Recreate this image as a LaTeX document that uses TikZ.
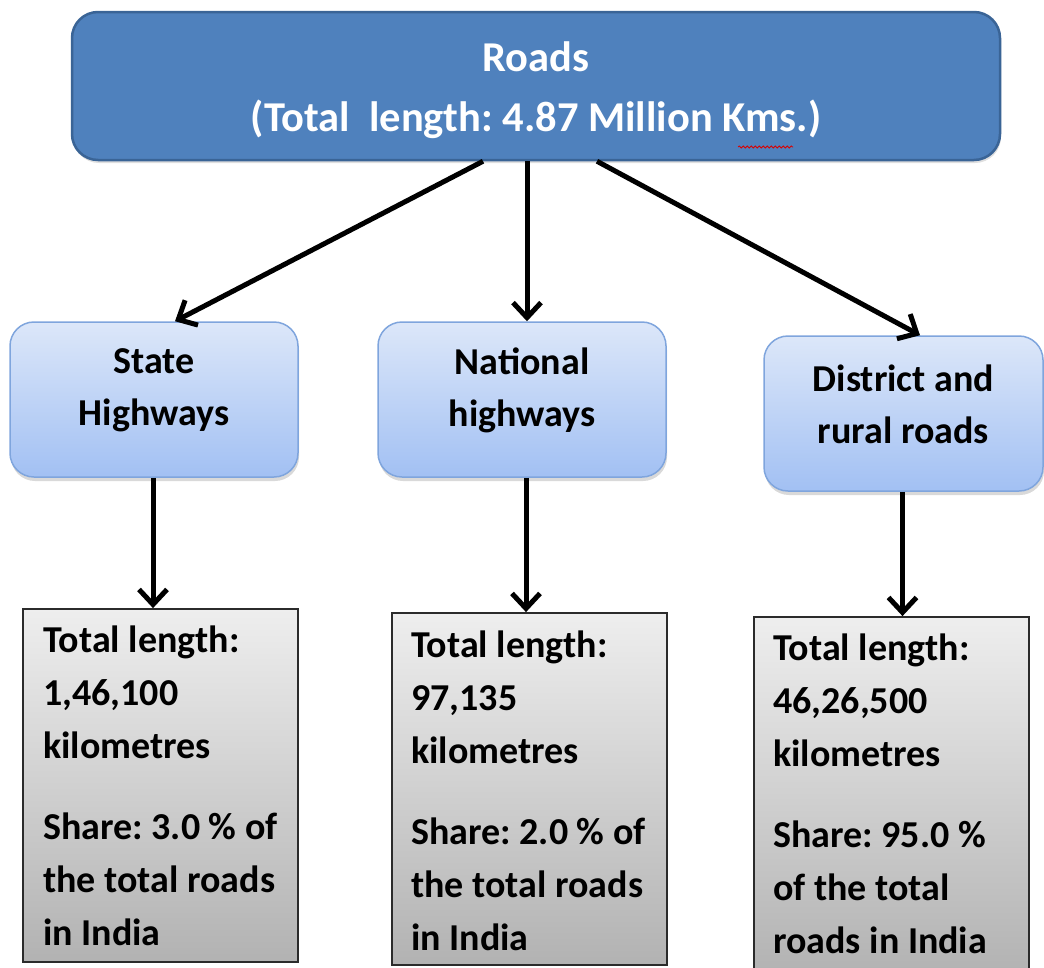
\documentclass[tikz,border=0pt]{standalone}
\usepackage{fontspec}
\setmainfont{Carlito}
\frenchspacing
\usetikzlibrary{arrows.meta,shadows,decorations.pathmorphing}
\definecolor{topfill}{HTML}{4F81BD}
\definecolor{topdraw}{HTML}{3A6496}
\definecolor{midtop}{HTML}{DCE7F9}
\definecolor{midbot}{HTML}{A2C0F3}
\definecolor{middraw}{HTML}{7FA5DD}
\definecolor{bottop}{HTML}{EEEEEE}
\definecolor{botbot}{HTML}{B2B2B2}
\definecolor{botdraw}{HTML}{2B2B2B}
\begin{document}
\begin{tikzpicture}[x=1pt,y=-1pt,
  topbox/.style={draw=topdraw, line width=2.5pt, fill=topfill, rounded corners=26pt,
    minimum width=928pt, minimum height=148pt, inner sep=0pt,
    drop shadow={shadow xshift=1pt, shadow yshift=-3pt, opacity=0.25}},
  toptext/.style={align=center, inner sep=0pt, text=white,
    font={\fontsize{42.5}{60}\selectfont\bfseries}},
  midbox/.style={draw=middraw, line width=1.5pt, top color=midtop, bottom color=midbot,
    rounded corners=24pt, minimum height=155pt, inner sep=0pt,
    drop shadow={shadow xshift=1pt, shadow yshift=-4pt, opacity=0.3}},
  midtext/.style={align=center, inner sep=0pt,
    font={\fontsize{38}{52}\selectfont\bfseries}},
  botbox/.style={draw=botdraw, line width=1.8pt, top color=bottop, bottom color=botbot,
    minimum width=275pt, inner sep=0pt},
  bodytext/.style={anchor=west, align=left, inner sep=0pt,
    font={\fontsize{38}{53}\selectfont\bfseries}},
  link/.style={line width=5pt, -{Straight Barb[length=15pt,width=28pt]}}
]
\useasboundingbox (0,0) rectangle (1044,967);

\node[topbox] (top) at (536,86) {};
\node[toptext] (topt) at ([yshift=-4pt]top.center) {Roads\\(Total\ \ length: 4.87 Million Kms.)};
\draw[red!85!black, line width=0.8pt, decorate,
  decoration={snake, amplitude=1pt, segment length=4pt}]
  ([shift={(202,61)}]top.center) coordinate (w1) -- ([shift={(257,61)}]top.center) coordinate (w2);

\node[midbox, minimum width=288pt] (state) at (154,399.5) {};
\node[midbox, minimum width=288pt] (nat) at (522,399.5) {};
\node[midbox, minimum width=279pt] (dist) at (903.5,413.5) {};
\node[midtext] (statet) at ([yshift=9pt]state.center) {State\\Highways};
\node[midtext] (natt) at ([yshift=9pt]nat.center) {National\\highways};
\node[midtext] (distt) at ([yshift=9pt]dist.center) {District and\\rural roads};

\node[botbox, minimum height=353pt] (sb) at (160.5,785.5) {};
\node[botbox, minimum height=352pt] (nb) at (529.5,789) {};
\node[botbox, minimum height=358pt] (db) at (891.5,796) {};

\node[bodytext] (st) at ([xshift=21pt]sb.west) {Total length:\\1,46,100\\kilometres\\[28pt]Share: 3.0 \% of\\the total roads\\in India};
\node[bodytext] (nt) at ([xshift=20pt,yshift=-2pt]nb.west) {Total length:\\97,135\\kilometres\\[28pt]Share: 2.0 \% of\\the total roads\\in India};
\node[bodytext] (dt) at ([xshift=20pt,yshift=2pt]db.west) {Total length:\\46,26,500\\kilometres\\[28pt]Share: 95.0 \%\\of the total\\roads in India};

\draw[link] ([xshift=-53pt]top.south) -- ([xshift=21pt]state.north);
\draw[link] ([xshift=-9pt]top.south) -- ([xshift=5pt]nat.north);
\draw[link] ([xshift=61pt]top.south) -- ([xshift=16.5pt]dist.north);

\draw[link] ([xshift=-1pt]state.south) -- ([xshift=-1pt]state.south |- sb.north);
\draw[link] ([xshift=4pt]nat.south) -- ([xshift=4pt]nat.south |- nb.north);
\draw[link] ([xshift=-1pt]dist.south) -- ([xshift=-1pt]dist.south |- db.north);
\end{tikzpicture}
\end{document}
